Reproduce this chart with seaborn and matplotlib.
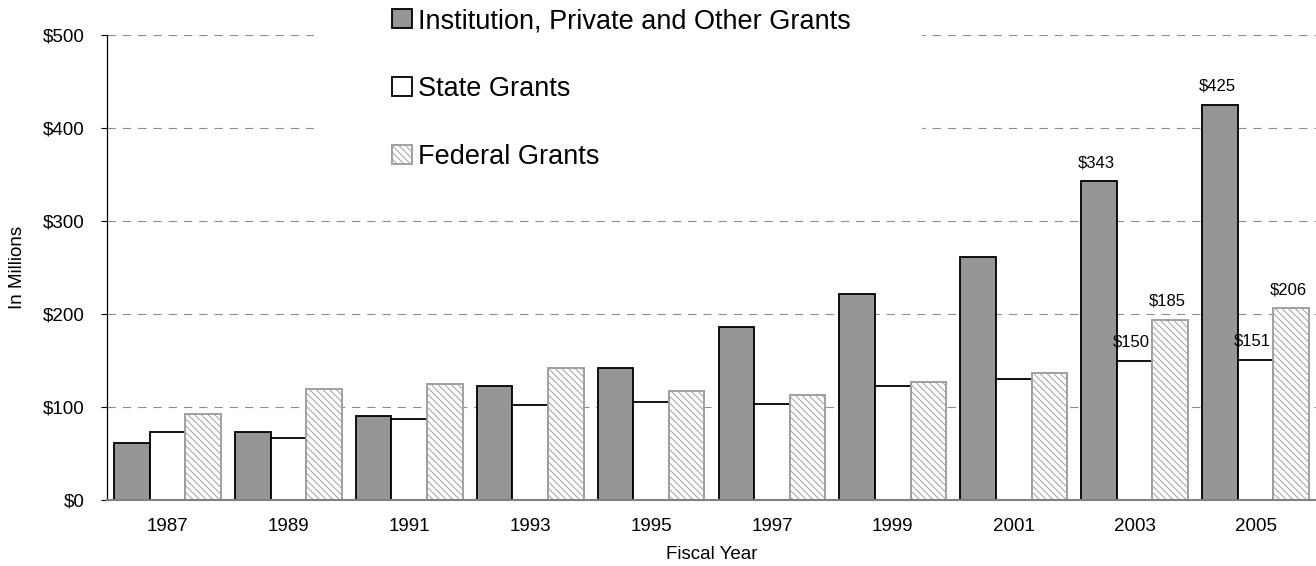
import matplotlib
matplotlib.use("Agg")
import matplotlib.pyplot as plt
from matplotlib.patches import Rectangle
import seaborn as sns
import pandas as pd

years = ["1987", "1989", "1991", "1993", "1995", "1997", "1999", "2001", "2003", "2005"]
series = ["Institution, Private and Other Grants", "State Grants", "Federal Grants"]
inst = [61, 73, 90, 123, 142, 186, 221, 261, 343, 425]
state = [73, 67, 87, 102, 105, 103, 123, 130, 150, 151]
federal = [92, 119, 125, 142, 117, 113, 127, 137, 194, 206]
label_years = ["2003", "2005"]
inst_labels = ["$343", "$425"]
state_labels = ["$150", "$151"]
fed_labels = ["$185", "$206"]
y_ticks = [0, 100, 200, 300, 400, 500]

sns.set_style("white")
plt.rcParams["font.family"] = ["Liberation Sans", "DejaVu Sans"]
plt.rcParams["hatch.linewidth"] = 0.7
plt.rcParams["lines.scale_dashes"] = False
for k in ["text.color", "axes.labelcolor", "xtick.color", "ytick.color"]:
    plt.rcParams[k] = "black"

df = pd.DataFrame({
    "year": years * 3,
    "value": inst + state + federal,
    "series": [series[0]] * len(years) + [series[1]] * len(years) + [series[2]] * len(years),
})

fig = plt.figure(figsize=(13.16, 5.66), dpi=100)
ax = fig.add_axes([107 / 1316, 1 - 500 / 566, 1 - 107 / 1316, (500 - 35) / 566])

sns.barplot(data=df, x="year", y="value", hue="series", order=years, hue_order=series,
            palette=["#969696", "#ffffff", "#ffffff"], width=0.884, gap=0,
            saturation=1, ax=ax, zorder=2)

styles = [
    dict(facecolor="#969696", edgecolor="#000000", hatch=None, lw=1.3),
    dict(facecolor="#ffffff", edgecolor="#000000", hatch=None, lw=1.3),
    dict(facecolor="#ffffff", edgecolor="#a0a0a0", hatch="\\\\\\\\\\", lw=1.4),
]
for cont, st in zip(ax.containers, styles):
    for p in cont.patches:
        p.set_facecolor(st["facecolor"])
        p.set_edgecolor(st["edgecolor"])
        p.set_linewidth(st["lw"])
        if st["hatch"]:
            p.set_hatch(st["hatch"])

# value labels
all_labels = [inst_labels, state_labels, fed_labels]
for cont, labs in zip(ax.containers, all_labels):
    for yr, lab in zip(label_years, labs):
        p = cont.patches[years.index(yr)]
        ax.annotate(lab, (p.get_x() + p.get_width() / 2, p.get_height()),
                    xytext=(-3, 11), textcoords="offset pixels",
                    ha="center", va="bottom", fontsize=12, color="black", zorder=5)

ax.set_ylim(0, 500)
ax.set_xlim(-0.5, len(years) - 0.5)
ax.set_yticks(y_ticks)
ax.set_yticklabels([f"${v}" for v in y_ticks])
ax.tick_params(axis="y", direction="out", length=4.3, width=0.8, color="black",
               labelcolor="black", labelsize=13.5, pad=12, left=True)
ax.tick_params(axis="x", length=0, labelsize=13.5, labelcolor="black", pad=13)

ax.yaxis.grid(True, color="#8c8c8c", linestyle=(0, (6, 5)), linewidth=0.8)
ax.xaxis.grid(False)
ax.set_axisbelow(True)

for s in ["top", "right"]:
    ax.spines[s].set_visible(False)
ax.spines["left"].set_color("black")
ax.spines["left"].set_linewidth(0.9)
ax.spines["bottom"].set_color("#808080")
ax.spines["bottom"].set_linewidth(1.5)

ax.set_xlabel("Fiscal Year", fontsize=13.5, labelpad=8, color="black")
ax.set_ylabel("In Millions", fontsize=13.5, color="black")
ax.yaxis.set_label_coords(-(107 - 26) / 1209, 0.5)

# white area behind legend
bg = Rectangle((314 / 1316, 1 - 190 / 566), (922 - 314) / 1316, 190 / 566,
               transform=fig.transFigure, facecolor="white", edgecolor="none", zorder=1)
ax.add_patch(bg)

leg = ax.get_legend()
if leg is not None:
    leg.remove()
leg = fig.legend(handles=ax.containers, labels=series, loc="upper left",
                 bbox_to_anchor=(392 / 1316, 1 - 8 / 566), frameon=False, fontsize=19.5,
                 handlelength=0.72, handleheight=0.72, handletextpad=0.25,
                 labelspacing=1.55, borderpad=0, borderaxespad=0, labelcolor="black")

fig.savefig("out.png", dpi=100)
